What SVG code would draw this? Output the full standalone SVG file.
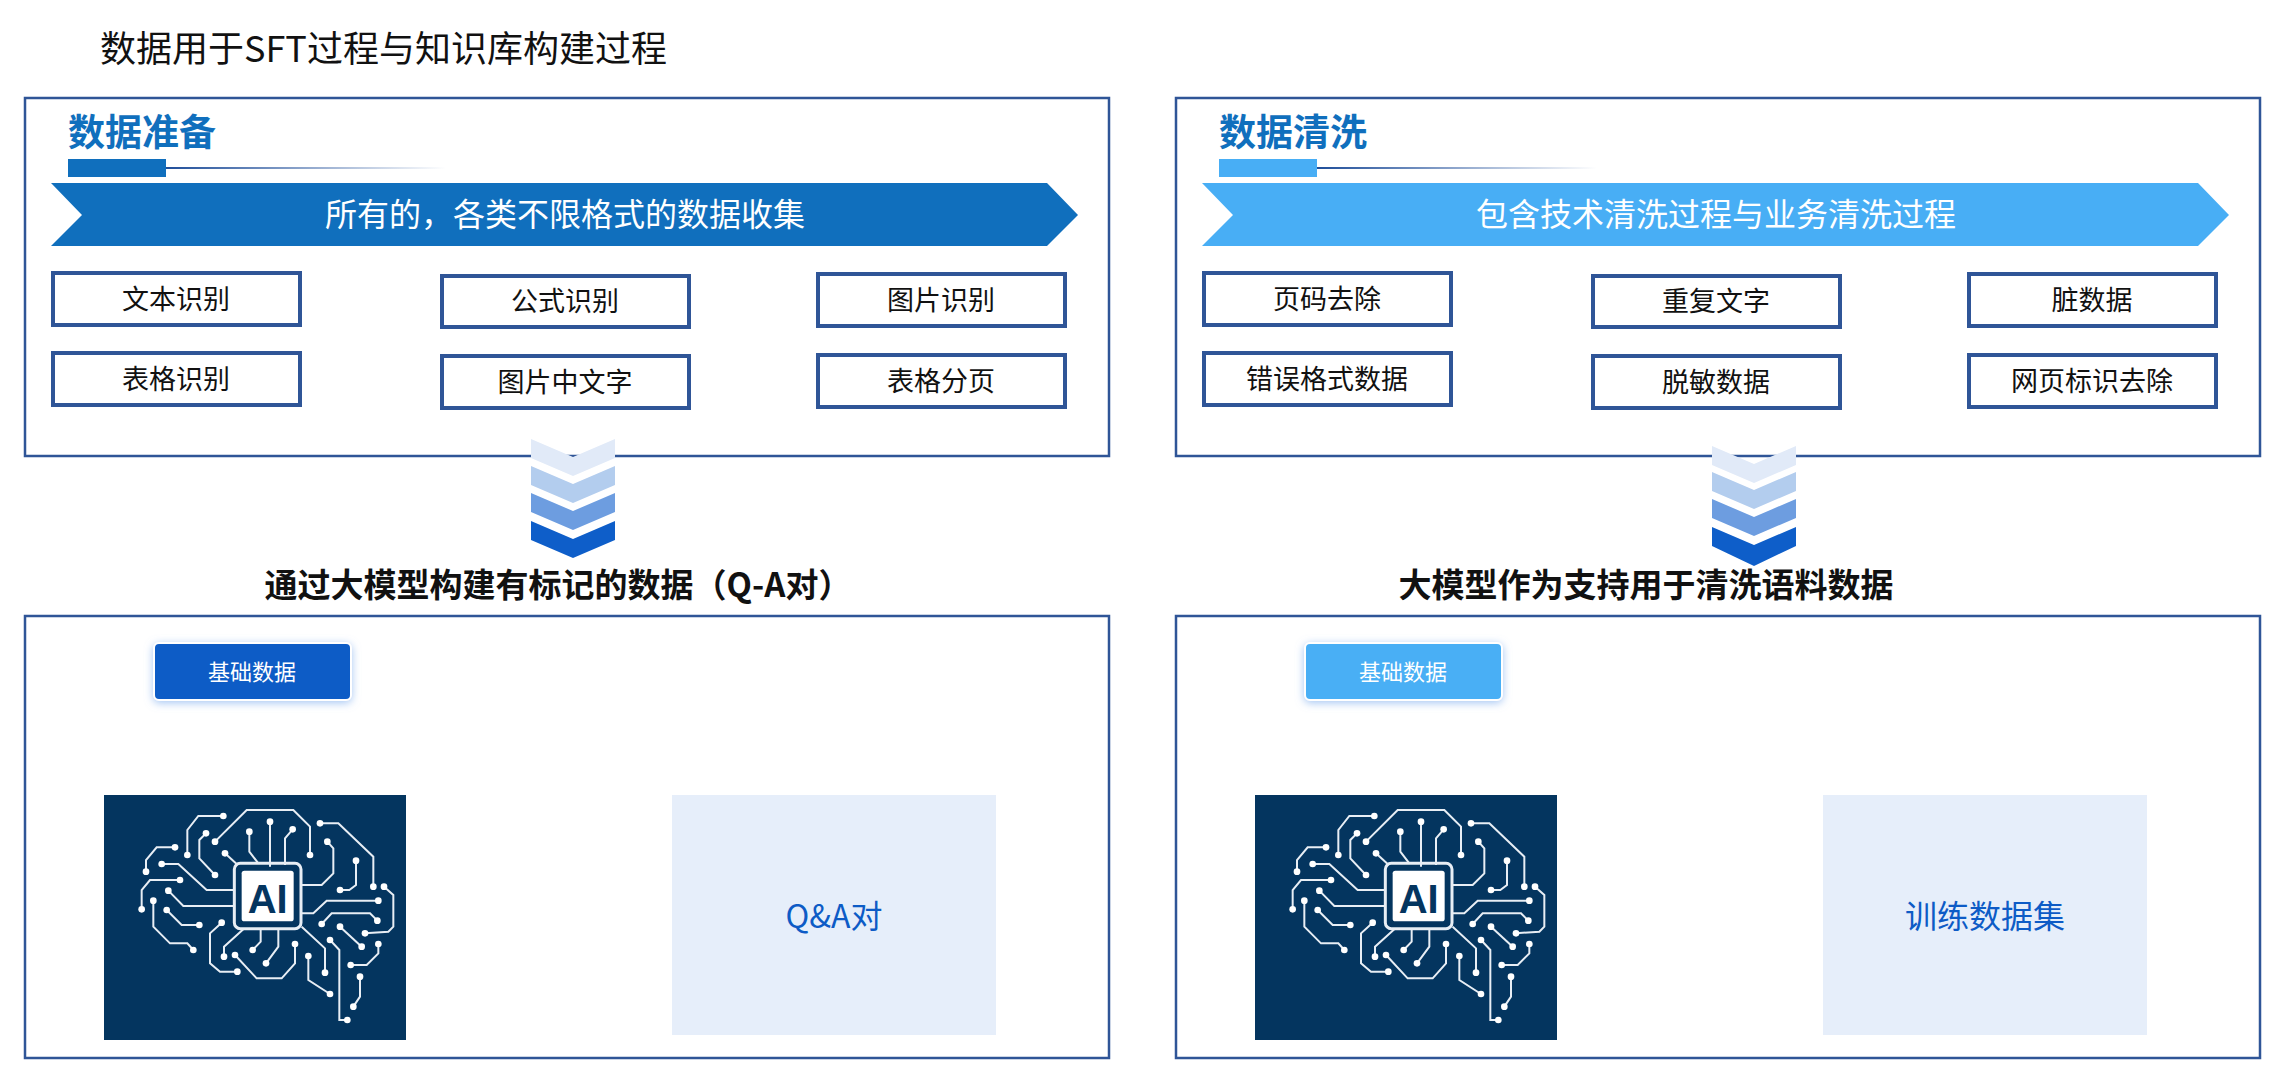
<svg xmlns="http://www.w3.org/2000/svg" width="2296" height="1080" viewBox="0 0 2296 1080">
<style>
.t{font-family:"Noto Sans CJK SC","Liberation Sans",sans-serif}
.frame{fill:#fff;stroke:#2f5597;stroke-width:2.5}
.box{fill:#fff;stroke:#2f5597;stroke-width:4}
.bt{font-family:"Noto Sans CJK SC","Liberation Sans",sans-serif;font-size:27px;fill:#111;text-anchor:middle}
.head{font-family:"Noto Sans CJK SC",sans-serif;font-size:37px;font-weight:bold}
.sub{font-family:"Noto Sans CJK SC",sans-serif;font-size:33px;font-weight:bold;fill:#111;text-anchor:middle}
.wire{fill:none;stroke:#e8eef5;stroke-width:6}
.dot{fill:#fff}
</style>
<defs>
<linearGradient id="fade" x1="0" x2="1" y1="0" y2="0"><stop offset="0" stop-color="#1f4e9a"/><stop offset="1" stop-color="#1f4e9a" stop-opacity="0"/></linearGradient>
<filter id="glow" x="-20%" y="-30%" width="140%" height="160%"><feDropShadow dx="0" dy="2" stdDeviation="4" flood-color="#8fb8f0" flood-opacity="0.8"/></filter>
<symbol id="brain" viewBox="0 0 960 750" overflow="visible">
<rect x="12" y="15" width="906" height="735" fill="#04355f"/>
<g class="wire">
<path d="M345,155 L440,60 L580,60 L630,110 L630,195"/>
<path d="M510,95 L510,230"/><path d="M448,125 L448,185 L475,220"/><path d="M578,118 L555,145 L555,225"/>
<path d="M370,78 L295,78 L262,120 L262,195"/><path d="M318,130 L298,150 L298,205 L345,255"/>
<path d="M225,172 L170,172 L138,210 L138,245"/><path d="M185,222 L235,222 L320,300 L405,300"/>
<path d="M240,270 L150,270 L125,300 L125,358"/><path d="M375,190 L410,222"/>
<path d="M205,302 L250,348 L405,348"/><path d="M160,332 L160,410 L210,460 L262,460 L280,480"/>
<path d="M200,360 L245,405 L298,405"/>
<path d="M660,100 L715,100 L820,200 L820,290"/><path d="M682,155 L700,175 L700,250 L665,285 L605,285"/>
<path d="M768,212 L768,285 L748,300 L720,300"/><path d="M852,290 L880,315 L880,410 L865,425 L795,430"/>
<path d="M605,370 L640,370 L680,332 L835,332"/><path d="M665,402 L695,370 L810,370 L832,392"/>
<path d="M720,410 L785,470"/><path d="M835,462 L835,490 L800,525 L752,525"/>
<path d="M605,410 L675,475 L675,548"/><path d="M690,450 L718,480 L718,690 L742,690"/>
<path d="M780,560 L780,620 L760,650"/><path d="M625,498 L625,570 L690,612"/>
<path d="M585,462 L585,520 L545,565 L470,565 L405,495"/><path d="M535,418 L535,470 L498,520"/>
<path d="M482,418 L482,455 L458,480"/><path d="M430,418 L372,470 L372,500"/>
<path d="M365,398 L330,430 L330,520 L360,545 L412,545"/>
</g>
<g class="dot">
<circle cx="345" cy="155" r="10"/><circle cx="630" cy="195" r="10"/><circle cx="510" cy="95" r="10"/><circle cx="448" cy="125" r="10"/><circle cx="578" cy="118" r="10"/>
<circle cx="370" cy="78" r="10"/><circle cx="262" cy="195" r="10"/><circle cx="318" cy="130" r="10"/><circle cx="345" cy="255" r="10"/>
<circle cx="225" cy="172" r="10"/><circle cx="138" cy="245" r="10"/><circle cx="185" cy="222" r="10"/><circle cx="240" cy="270" r="10"/><circle cx="125" cy="358" r="10"/>
<circle cx="375" cy="190" r="10"/><circle cx="205" cy="302" r="10"/><circle cx="160" cy="332" r="10"/><circle cx="280" cy="480" r="10"/><circle cx="200" cy="360" r="10"/><circle cx="298" cy="405" r="10"/>
<circle cx="660" cy="100" r="10"/><circle cx="820" cy="290" r="10"/><circle cx="682" cy="155" r="10"/><circle cx="768" cy="212" r="10"/><circle cx="720" cy="300" r="10"/>
<circle cx="852" cy="290" r="10"/><circle cx="795" cy="430" r="10"/><circle cx="835" cy="332" r="10"/><circle cx="665" cy="402" r="10"/><circle cx="832" cy="392" r="10"/>
<circle cx="720" cy="410" r="10"/><circle cx="785" cy="470" r="10"/><circle cx="835" cy="462" r="10"/><circle cx="752" cy="525" r="10"/><circle cx="675" cy="548" r="10"/>
<circle cx="690" cy="450" r="10"/><circle cx="742" cy="690" r="10"/><circle cx="780" cy="560" r="10"/><circle cx="760" cy="650" r="10"/><circle cx="625" cy="498" r="10"/><circle cx="690" cy="612" r="10"/>
<circle cx="585" cy="462" r="10"/><circle cx="405" cy="495" r="10"/><circle cx="498" cy="520" r="10"/><circle cx="458" cy="480" r="10"/><circle cx="372" cy="500" r="10"/><circle cx="365" cy="398" r="10"/><circle cx="412" cy="545" r="10"/>
</g>
<rect x="403" y="220" width="200" height="196" rx="18" fill="none" stroke="#e8eef5" stroke-width="9"/>
<rect x="425" y="242" width="156" height="152" rx="8" fill="#fff"/>
<text x="503" y="368" font-family="Liberation Sans,sans-serif" font-weight="bold" font-size="120" fill="#04355f" text-anchor="middle">AI</text>
</symbol>
</defs>
<rect width="2296" height="1080" fill="#fff"/>
<text class="t" x="100" y="62" font-size="36" fill="#111">数据用于SFT过程与知识库构建过程</text>

<g id="prep">
<rect class="frame" x="25" y="98" width="1084" height="358"/>
<text class="head" x="68" y="146" fill="#106fbd">数据准备</text>
<rect x="68" y="159" width="98" height="18" fill="#106fbd"/>
<rect x="166" y="167" width="280" height="2" fill="url(#fade)"/>
<polygon points="51,183 1047,183 1078,215 1047,246 51,246 82,215" fill="#106fbd"/>
<text class="t" x="565" y="226" font-size="32" fill="#fff" text-anchor="middle">所有的，各类不限格式的数据收集</text>
</g>
<g id="prep-items">
<rect class="box" x="53" y="273" width="247" height="52"/><text class="bt" x="176" y="309">文本识别</text>
<rect class="box" x="442" y="276" width="247" height="51"/><text class="bt" x="565" y="311">公式识别</text>
<rect class="box" x="818" y="274" width="247" height="52"/><text class="bt" x="941" y="310">图片识别</text>
<rect class="box" x="53" y="353" width="247" height="52"/><text class="bt" x="176" y="389">表格识别</text>
<rect class="box" x="442" y="356" width="247" height="52"/><text class="bt" x="565" y="392">图片中文字</text>
<rect class="box" x="818" y="355" width="247" height="52"/><text class="bt" x="941" y="391">表格分页</text>
</g>

<g id="clean">
<rect class="frame" x="1176" y="98" width="1084" height="358"/>
<text class="head" x="1219" y="146" fill="#106fbd">数据清洗</text>
<rect x="1219" y="159" width="98" height="18" fill="#48aef5"/>
<rect x="1317" y="167" width="280" height="2" fill="url(#fade)"/>
<polygon points="1202,183 2198,183 2229,215 2198,246 1202,246 1233,215" fill="#48aef5"/>
<text class="t" x="1716" y="226" font-size="32" fill="#fff" text-anchor="middle">包含技术清洗过程与业务清洗过程</text>
</g>
<g id="clean-items">
<rect class="box" x="1204" y="273" width="247" height="52"/><text class="bt" x="1327" y="309">页码去除</text>
<rect class="box" x="1593" y="276" width="247" height="51"/><text class="bt" x="1716" y="311">重复文字</text>
<rect class="box" x="1969" y="274" width="247" height="52"/><text class="bt" x="2092" y="310">脏数据</text>
<rect class="box" x="1204" y="353" width="247" height="52"/><text class="bt" x="1327" y="389">错误格式数据</text>
<rect class="box" x="1593" y="356" width="247" height="52"/><text class="bt" x="1716" y="392">脱敏数据</text>
<rect class="box" x="1969" y="355" width="247" height="52"/><text class="bt" x="2092" y="391">网页标识去除</text>
</g>

<g id="connectors">
<g transform="translate(531,439)">
<polygon points="0,0 42,18 84,0 84,19 42,37 0,19" fill="#e1eaf8"/>
<polygon points="0,27 42,45 84,27 84,46 42,64 0,46" fill="#b3cdee"/>
<polygon points="0,54 42,72 84,54 84,73 42,91 0,73" fill="#6d9de0"/>
<polygon points="0,82 42,100 84,82 84,101 42,119 0,101" fill="#0e5ec9"/>
</g>
<g transform="translate(1712,446)">
<polygon points="0,0 42,18 84,0 84,19 42,37 0,19" fill="#e1eaf8"/>
<polygon points="0,26 42,44 84,26 84,45 42,63 0,45" fill="#b3cdee"/>
<polygon points="0,53 42,71 84,53 84,72 42,90 0,72" fill="#6d9de0"/>
<polygon points="0,81 42,99 84,81 84,100 42,120 0,100" fill="#0e5ec9"/>
</g>
<polygon points="212,713 254,743 295,713 295,745 254,775 212,745" fill="#0d5bc6"/>
<polygon points="1363,713 1405,743 1446,713 1446,745 1405,775 1363,745" fill="#4aaff5"/>
<polygon points="463,887 498,887 525,928 498,970 463,970 490,928" fill="#0d5bc6"/>
<polygon points="518,887 553,887 580,928 553,970 518,970 545,928" fill="#0d5bc6"/>
<polygon points="1614,887 1649,887 1676,928 1649,970 1614,970 1641,928" fill="#4aaff5"/>
<polygon points="1669,887 1704,887 1731,928 1704,970 1669,970 1696,928" fill="#4aaff5"/>
</g>

<text class="sub" x="558" y="597">通过大模型构建有标记的数据（Q-A对）</text>
<text class="sub" x="1646" y="597">大模型作为支持用于清洗语料数据</text>

<g id="qa">
<rect class="frame" x="25" y="616" width="1084" height="442"/>
<rect x="154" y="643" width="197" height="57" rx="5" fill="#0d5bc6" stroke="#fff" stroke-width="2" filter="url(#glow)"/>
<text class="t" x="252" y="680" font-size="22" fill="#fff" text-anchor="middle">基础数据</text>
<use href="#brain" x="100" y="790" width="320" height="250"/>
<rect x="672" y="795" width="324" height="240" fill="#e6eefa"/>
<text class="t" x="834" y="928" font-size="32" fill="#0d5bc6" text-anchor="middle">Q&amp;A对</text>
</g>
<g id="train">
<rect class="frame" x="1176" y="616" width="1084" height="442"/>
<rect x="1305" y="643" width="197" height="57" rx="5" fill="#4aaff5" stroke="#fff" stroke-width="2" filter="url(#glow)"/>
<text class="t" x="1403" y="680" font-size="22" fill="#fff" text-anchor="middle">基础数据</text>
<use href="#brain" x="1251" y="790" width="320" height="250"/>
<rect x="1823" y="795" width="324" height="240" fill="#e6eefa"/>
<text class="t" x="1985" y="928" font-size="32" fill="#0d5bc6" text-anchor="middle">训练数据集</text>
</g>
</svg>
